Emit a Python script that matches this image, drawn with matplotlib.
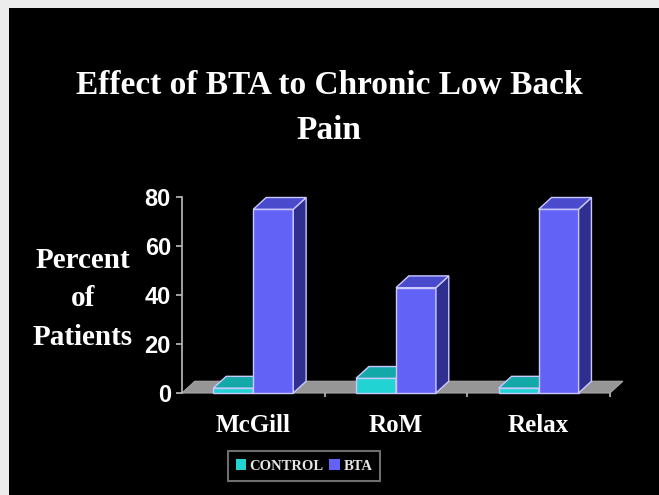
import matplotlib
matplotlib.use('Agg')
import matplotlib.pyplot as plt
from matplotlib.patches import Polygon, Rectangle, Patch

# Chart data
categories = ['McGill', 'RoM', 'Relax']
control = [2, 6, 2]
bta = [75, 43, 75]
yticks = [0, 20, 40, 60, 80]

title = 'Effect of BTA to Chronic Low Back\nPain'
ylabel = 'Percent\nof\nPatients'

# colours (front, side, top) for each series
ctrl_cols = ('#22d3d3', '#0b7f80', '#13a9a8')
bta_cols = ('#6262f6', '#2f2f8f', '#4a4acc')
edge = '#c9c9ff'

width = 0.28
dx, dy = 0.09, 4.8  # oblique depth, in data units

serif = 'Liberation Serif'
sans = 'Liberation Sans'

fig = plt.figure(figsize=(6.59, 4.95), dpi=100)
fig.patch.set_facecolor('#ececec')
# black slide area (light strip left and top like the screenshot)
fig.add_artist(Rectangle((9 / 659, 0), 1, 1 - 8 / 495, transform=fig.transFigure,
                         facecolor='black', edgecolor='none', zorder=0))

ax = fig.add_axes([182 / 659, 102 / 495, 428 / 659, 196 / 495])
ax.set_facecolor('none')
ax.set_xlim(-0.5, len(categories) - 0.5)
ax.set_ylim(0, 80)

# grey floor
floor = Polygon([(-0.5, 0), (len(categories) - 0.5, 0),
                 (len(categories) - 0.5 + dx, dy), (-0.5 + dx, dy)],
                closed=True, facecolor='#969696', edgecolor='#a8a8a8', lw=0.8,
                clip_on=False, zorder=1)
ax.add_patch(floor)


def draw_bar(x, h, cols, z):
    # front face through the regular bar call
    ax.bar(x, h, width=width, color=cols[0], edgecolor=edge, linewidth=1.0,
           clip_on=False, zorder=z)
    l, r = x - width / 2, x + width / 2
    side = Polygon([(r, 0), (r + dx, dy), (r + dx, h + dy), (r, h)], closed=True,
                   facecolor=cols[1], edgecolor=edge, lw=1.0, clip_on=False, zorder=z)
    top = Polygon([(l, h), (r, h), (r + dx, h + dy), (l + dx, h + dy)], closed=True,
                  facecolor=cols[2], edgecolor=edge, lw=1.0, clip_on=False, zorder=z)
    ax.add_patch(side)
    ax.add_patch(top)


for i in range(len(categories)):
    draw_bar(i - width / 2, control[i], ctrl_cols, 2 + i * 2)
    draw_bar(i + width / 2, bta[i], bta_cols, 3 + i * 2)

# axes styling
for s in ['top', 'right', 'bottom']:
    ax.spines[s].set_visible(False)
ax.spines['left'].set_color('#bdbdbd')
ax.spines['left'].set_linewidth(1.2)

ax.set_yticks(yticks)
ax.tick_params(axis='y', colors='#bdbdbd', length=4, width=1.2, pad=4)
for lab in ax.get_yticklabels():
    lab.set_color('white')
    lab.set_fontfamily(sans)
    lab.set_fontweight('bold')
    lab.set_fontsize(17)

# category separators as major ticks, names as minor ticks
ax.set_xticks([i + 0.5 for i in range(len(categories))])
ax.set_xticklabels([])
ax.tick_params(axis='x', which='major', colors='#bdbdbd', length=3, width=1.2)
ax.set_xticks(range(len(categories)), minor=True)
ax.set_xticklabels(categories, minor=True, fontfamily=serif, fontweight='bold',
                   fontsize=18, color='white')
ax.tick_params(axis='x', which='minor', length=0, pad=15)

fig.text(0.4993, 1 - 108 / 495, title, ha='center', va='center', color='white',
         fontfamily=serif, fontweight='bold', fontsize=24, linespacing=1.6)
fig.text(83 / 659, 1 - 299 / 495, ylabel, ha='center', va='center', color='white',
         fontfamily=serif, fontweight='bold', fontsize=21, linespacing=1.55)

handles = [Patch(facecolor=ctrl_cols[0], edgecolor='none', label='CONTROL'),
           Patch(facecolor=bta_cols[0], edgecolor='none', label='BTA')]
leg = fig.legend(handles=handles, loc='center', bbox_to_anchor=(304 / 659, 1 - 466 / 495),
                 ncol=2, frameon=True, handlelength=0.7, handleheight=0.7,
                 handletextpad=0.25, columnspacing=0.4, borderpad=0.55,
                 prop={'family': serif, 'weight': 'bold', 'size': 10.5})
leg.get_frame().set_facecolor('black')
leg.get_frame().set_edgecolor('#8a8a8a')
leg.get_frame().set_linewidth(1.5)
leg.get_frame().set_boxstyle('square', pad=0)
for t in leg.get_texts():
    t.set_color('#e6e6e6')

fig.savefig('out.png', dpi=100, facecolor=fig.get_facecolor())
